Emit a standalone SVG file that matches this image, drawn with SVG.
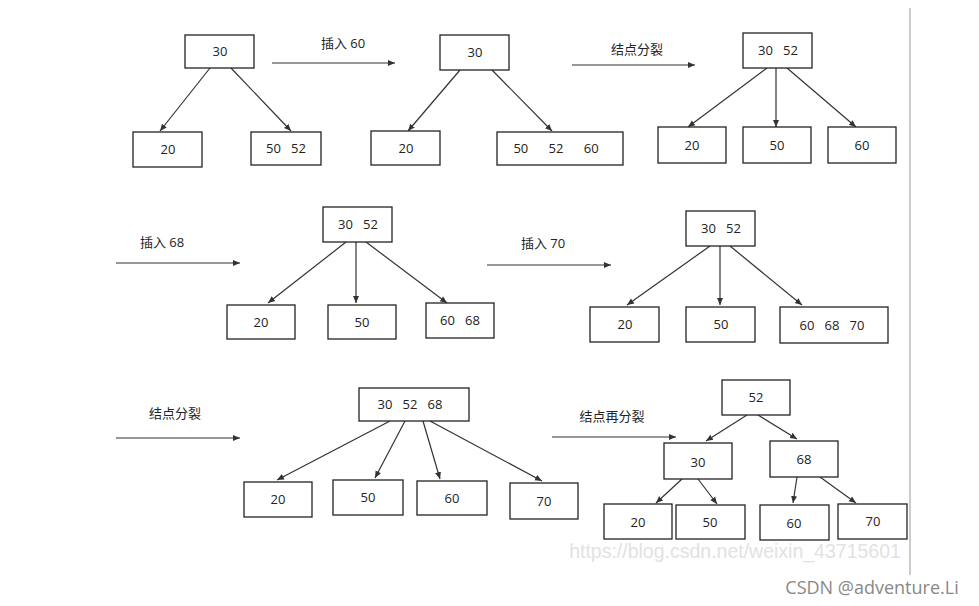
<svg xmlns="http://www.w3.org/2000/svg" width="979" height="606" viewBox="0 0 979 606">
<style>
rect.n{fill:#fff;stroke:#222;stroke-width:1.3}
text{font-family:"Open Sans","Noto Sans CJK SC",sans-serif;font-size:13px;fill:#222;text-anchor:middle;white-space:pre}
.c line{stroke:#333;stroke-width:1.2;marker-end:url(#a)}
</style>
<defs><marker id="a" markerWidth="8" markerHeight="8" refX="7" refY="4" orient="auto" markerUnits="userSpaceOnUse"><path d="M0,1 L7,4 L0,7 Z" fill="#333"/></marker></defs>
<rect width="979" height="606" fill="#fff"/>
<line x1="910" y1="8" x2="910" y2="575" stroke="#ccc" stroke-width="2"/>
<g class="c">
<line x1="210" y1="68" x2="160" y2="131"/><line x1="231" y1="68" x2="291" y2="131"/>
<line x1="272" y1="63" x2="395" y2="63"/>
<line x1="460" y1="70" x2="408" y2="131"/><line x1="492" y1="70" x2="552" y2="131"/>
<line x1="572" y1="65" x2="695" y2="65"/>
<line x1="767" y1="68" x2="688" y2="127"/><line x1="776" y1="68" x2="776" y2="127"/><line x1="787" y1="68" x2="856" y2="127"/>
<line x1="116" y1="263" x2="240" y2="263"/>
<line x1="346" y1="242" x2="268" y2="303"/><line x1="356" y1="242" x2="356" y2="303"/><line x1="366" y1="242" x2="447" y2="303"/>
<line x1="487" y1="265" x2="611" y2="265"/>
<line x1="710" y1="246" x2="627" y2="305"/><line x1="720" y1="246" x2="720" y2="305"/><line x1="730" y1="246" x2="802" y2="305"/>
<line x1="116" y1="438" x2="240" y2="438"/>
<line x1="390" y1="421" x2="277" y2="480"/><line x1="405" y1="421" x2="375" y2="478"/><line x1="423" y1="421" x2="440" y2="479"/><line x1="430" y1="421" x2="542" y2="481"/>
<line x1="552" y1="437" x2="676" y2="437"/>
<line x1="747" y1="415" x2="706" y2="441"/><line x1="758" y1="415" x2="797" y2="439"/>
<line x1="682" y1="479" x2="656" y2="503"/><line x1="698" y1="479" x2="717" y2="504"/>
<line x1="797" y1="477" x2="793" y2="503"/><line x1="820" y1="477" x2="856" y2="503"/>
</g>
<g id="labels">
<text x="343" y="48">插入 60</text>
<text x="637" y="54">结点分裂</text>
<text x="162" y="247">插入 68</text>
<text x="543" y="248">插入 70</text>
<text x="175" y="418">结点分裂</text>
<text x="612" y="421">结点再分裂</text>
</g>
<g id="A1"><rect class="n" x="185" y="35" width="69" height="33"/><text x="220" y="56">30</text></g>
<g id="A2"><rect class="n" x="133" y="132" width="69" height="35"/><text x="168" y="154">20</text></g>
<g id="A3"><rect class="n" x="251" y="132" width="70" height="33"/><text x="286" y="153">50   52</text></g>
<g id="B1"><rect class="n" x="440" y="35" width="69" height="35"/><text x="475" y="57">30</text></g>
<g id="B2"><rect class="n" x="371" y="131" width="69" height="34"/><text x="406" y="153">20</text></g>
<g id="B3"><rect class="n" x="497" y="132" width="126" height="33"/><text x="556" y="153">50      52      60</text></g>
<g id="C1"><rect class="n" x="743" y="33" width="69" height="35"/><text x="778" y="55">30   52</text></g>
<g id="C2"><rect class="n" x="658" y="127" width="68" height="36"/><text x="692" y="150">20</text></g>
<g id="C3"><rect class="n" x="743" y="127" width="68" height="36"/><text x="777" y="150">50</text></g>
<g id="C4"><rect class="n" x="828" y="127" width="68" height="36"/><text x="862" y="150">60</text></g>
<g id="D1"><rect class="n" x="323" y="207" width="69" height="35"/><text x="358" y="229">30   52</text></g>
<g id="D2"><rect class="n" x="227" y="305" width="68" height="34"/><text x="261" y="327">20</text></g>
<g id="D3"><rect class="n" x="328" y="305" width="68" height="34"/><text x="362" y="327">50</text></g>
<g id="D4"><rect class="n" x="426" y="303" width="68" height="35"/><text x="460" y="325">60   68</text></g>
<g id="E1"><rect class="n" x="686" y="211" width="69" height="35"/><text x="721" y="233">30   52</text></g>
<g id="E2"><rect class="n" x="590" y="307" width="69" height="35"/><text x="625" y="329">20</text></g>
<g id="E3"><rect class="n" x="686" y="307" width="69" height="35"/><text x="721" y="329">50</text></g>
<g id="E4"><rect class="n" x="780" y="307" width="108" height="36"/><text x="832" y="330">60   68   70</text></g>
<g id="F1"><rect class="n" x="359" y="388" width="110" height="33"/><text x="410" y="409">30   52   68</text></g>
<g id="F2"><rect class="n" x="244" y="482" width="68" height="35"/><text x="278" y="504">20</text></g>
<g id="F3"><rect class="n" x="333" y="480" width="70" height="35"/><text x="368" y="502">50</text></g>
<g id="F4"><rect class="n" x="417" y="481" width="70" height="34"/><text x="452" y="503">60</text></g>
<g id="F5"><rect class="n" x="510" y="483" width="68" height="36"/><text x="544" y="506">70</text></g>
<g id="G1"><rect class="n" x="722" y="380" width="68" height="35"/><text x="756" y="402">52</text></g>
<g id="G2"><rect class="n" x="664" y="443" width="68" height="36"/><text x="698" y="467">30</text></g>
<g id="G3"><rect class="n" x="770" y="441" width="68" height="36"/><text x="804" y="464">68</text></g>
<g id="G4"><rect class="n" x="604" y="504" width="68" height="35"/><text x="638" y="527">20</text></g>
<g id="G5"><rect class="n" x="676" y="505" width="69" height="34"/><text x="710" y="527">50</text></g>
<g id="G6"><rect class="n" x="760" y="505" width="69" height="35"/><text x="794" y="528">60</text></g>
<g id="G7"><rect class="n" x="838" y="504" width="69" height="35"/><text x="873" y="526">70</text></g>
<text x="735" y="558" style="font-family:'Liberation Sans',sans-serif;font-size:19.5px;fill:#e2e2e2">https://blog.csdn.net/weixin_43715601</text>
<text x="872" y="594" style="font-size:18px;fill:#888">CSDN @adventure.Li</text>
</svg>
